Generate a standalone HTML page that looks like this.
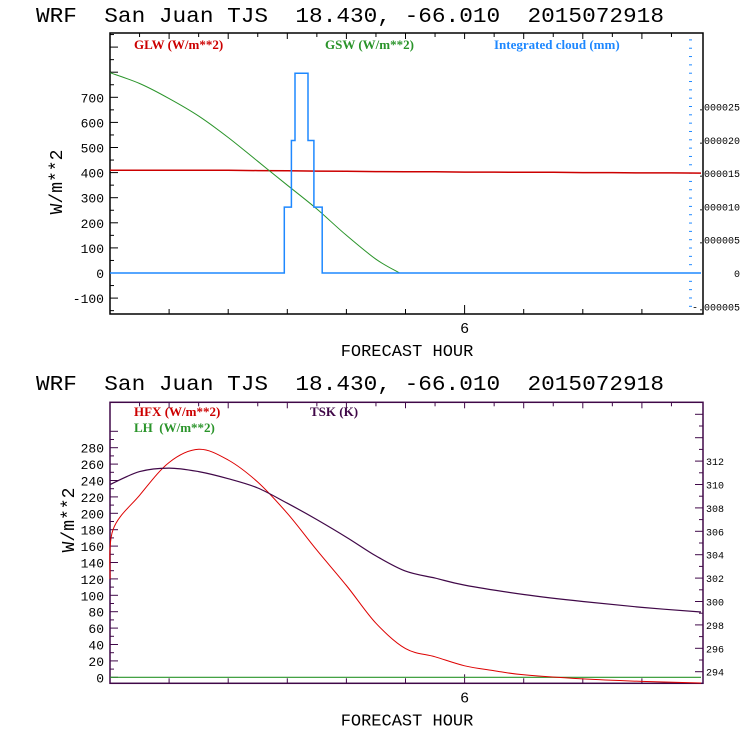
<!DOCTYPE html>
<html><head><meta charset="utf-8"><style>
html,body{margin:0;padding:0;background:#fff;}
svg{display:block;}
text{font-family:"Liberation Sans",sans-serif;}
.mono{font-family:"Liberation Mono",monospace;white-space:pre;}
.ser{font-family:"Liberation Serif",serif;font-weight:bold;white-space:pre;}
</style></head><body>
<svg id="chart" width="740" height="740" viewBox="0 0 740 740" xmlns="http://www.w3.org/2000/svg"></svg>
<script>
// ---- data ----
const hours = [0,0.5,1,1.5,2,2.5,3,3.5,4,4.5,5,5.5,6,6.5,7,7.5,8,8.5,9,9.5,10];
const glw = [409,409,409,409,409,408,407,406,405,404,403,403,402,402,401,401,400,400,399,399,398];
const gswHours = [0,0.5,1,1.5,2,2.5,3,3.5,4,4.5,4.9,10];
const gsw = [798,755,695,625,540,445,350,255,150,55,0,0];
const cloudEdges = [0,2.95,3.07,3.13,3.35,3.45,3.59,10];
const cloud = [0,0.0000099,0.0000199,0.000030,0.0000199,0.0000099,0];
const hfxHours = [0,0.05,0.5,1,1.5,2,2.5,3,3.5,4,4.5,5,5.5,6,6.5,7,8,9,10];
const hfx = [120,180,222,262,278,265,238,200,155,112,66,35,25,14,8,3,-2,-5,-7];
const lh = [0,0,0,0,0,0,0,0,0,0,0,0,0,0,0,0,0,0,0,0,0];
const tskHours = [0,0.5,1,1.5,2,2.5,3,3.5,4,4.5,5,5.5,6,7,8,9,10];
const tsk = [310.0,311.1,311.4,311.1,310.5,309.7,308.4,307.0,305.5,303.9,302.6,302.0,301.4,300.6,300.0,299.5,299.1];
const topLeftTicks = [-100,0,100,200,300,400,500,600,700];
const topRightTicks = [-0.000005,0,0.000005,0.00001,0.000015,0.00002,0.000025];
const topRightLabels = ["-.000005","0",".000005",".000010",".000015",".000020",".000025"];
const botLeftTicks = [0,20,40,60,80,100,120,140,160,180,200,220,240,260,280];
const botRightTicks = [294,296,298,300,302,304,306,308,310,312];

const NS="http://www.w3.org/2000/svg";
const svg=document.getElementById('chart');
function el(tag,attrs,parent){const e=document.createElementNS(NS,tag);for(const k in attrs)e.setAttribute(k,attrs[k]);(parent||svg).appendChild(e);return e;}
const X0=110,X1=703,PXH=59.1;
const xs=h=>X0+h*PXH;
const yT=v=>273-v*0.251;
const yTR=v=>273-v/0.000005*33.3;
const yB=v=>677.3-v*0.82;
const yBR=v=>671.7-(v-294)*11.7;

function title(y,name){
  const t=el('text',{x:36,y:y,'font-size':21,fill:'#000','class':'mono',textLength:628,lengthAdjust:'spacingAndGlyphs'});
  
  
  t.textContent='WRF  San Juan TJS  18.430, -66.010  2015072918';
}
function txt(x,y,s,size,fill,anchor,cls,name){
  const t=el('text',{x:x,y:y,'font-size':size,fill:fill,'text-anchor':anchor||'start'});
  if(cls)t.setAttribute('class',cls);
  
  
  t.textContent=s;return t;
}
function poly(pts,color,w,name){
  const p=el('polyline',{points:pts.map(p=>p[0].toFixed(1)+','+p[1].toFixed(1)).join(' '),fill:'none',stroke:color,'stroke-width':w});
  
  
}
function smooth(pts,color,w,name){
  let d='M'+pts[0][0].toFixed(1)+','+pts[0][1].toFixed(1);
  for(let i=0;i<pts.length-1;i++){
    const p0=pts[Math.max(0,i-1)],p1=pts[i],p2=pts[i+1],p3=pts[Math.min(pts.length-1,i+2)];
    const c1=[p1[0]+(p2[0]-p0[0])/6,p1[1]+(p2[1]-p0[1])/6];
    const c2=[p2[0]-(p3[0]-p1[0])/6,p2[1]-(p3[1]-p1[1])/6];
    d+=' C'+c1.map(v=>v.toFixed(1)).join(',')+' '+c2.map(v=>v.toFixed(1)).join(',')+' '+p2.map(v=>v.toFixed(1)).join(',');
  }
  const p=el('path',{d:d,fill:'none',stroke:color,'stroke-width':w});
  
  
}
function frame(yt,yb,color,name){
  const r=el('rect',{x:X0,y:yt,width:X1-X0,height:yb-yt,fill:'none',stroke:color,'stroke-width':1.5});
  
  
  for(let h=0.5;h<10;h+=0.5){
    const x=xs(h);
    el('line',{x1:x,y1:yt,x2:x,y2:yt+(h%1===0?6:4),stroke:color,'stroke-width':1});
    if(h%1===0) el('line',{x1:x,y1:yb,x2:x,y2:yb-(h===6?9:5),stroke:color,'stroke-width':1});
  }
  txt(xs(6),yb+19,'6',15,'#000','middle','mono','x-tick-6');
  txt(407,yb+42,'FORECAST HOUR',17,'#000','middle','mono','x-axis-title');
}

// ===== TOP PANEL =====
title(22,'top-title');
frame(33,314,'#000','top-plot-frame');
for(let v=-150;v<=950;v+=50){const y=yT(v);if(y<34||y>313)continue;el('line',{x1:X0,y1:y,x2:X0+(v%100===0?8:4),y2:y,stroke:'#000'});}
topLeftTicks.forEach(v=>txt(104,yT(v)+5,String(v),13,'#000','end','mono','top-y-tick-label'));
for(let v=-0.000005;v<=0.000049;v+=0.0000025/2){const y=yTR(v);if(y<36||y>312)continue;el('line',{x1:689,y1:y,x2:692,y2:y,stroke:'#1e88ff'});}
topRightTicks.forEach((v,i)=>txt(740,yTR(v)+4,topRightLabels[i],10,'#000','end','mono','top-right-tick-label'));
const yl=txt(0,0,'W/m**2',18,'#000','middle','mono','top-y-axis-title');yl.setAttribute('transform','translate(62,182) rotate(-90)');
txt(134,49,'GLW (W/m**2)',13,'#cc0000','start','ser','legend-glw');
txt(325,49,'GSW (W/m**2)',13,'#2a942a','start','ser','legend-gsw');
txt(494,49,'Integrated cloud (mm)',13,'#1e88ff','start','ser','legend-cloud');
poly(hours.map((h,i)=>[xs(h),yT(glw[i])]),'#cc0000',1.5,'glw-line');
smooth(gswHours.slice(0,11).map((h,i)=>[xs(h),yT(gsw[i])]),'#2a942a',1,'gsw-line');
const cp=[];for(let i=0;i<cloud.length;i++){cp.push([xs(cloudEdges[i]),yTR(cloud[i])]);cp.push([xs(cloudEdges[i+1]),yTR(cloud[i])]);}
poly(cp,'#1e88ff',1.5,'cloud-line');

// ===== BOTTOM PANEL =====
title(390,'bottom-title');
frame(402.3,683.3,'#400848','bottom-plot-frame');
for(let v=0;v<=300;v+=10){const y=yB(v);if(y<404)continue;el('line',{x1:X0,y1:y,x2:X0+(v%20===0?8:4),y2:y,stroke:'#400848'});}
botLeftTicks.forEach(v=>txt(104,yB(v)+5,String(v),13,'#000','end','mono','bottom-y-tick-label'));
for(let v=293;v<=317;v+=1){const y=yBR(v);if(y<404||y>682)continue;el('line',{x1:X1,y1:y,x2:X1-(v%2===0?8:4),y2:y,stroke:'#400848'});}
botRightTicks.forEach(v=>txt(706,yBR(v)+4,String(v),10,'#000','start','mono','bottom-right-tick-label'));
const yl2=txt(0,0,'W/m**2',18,'#000','middle','mono','bottom-y-axis-title');yl2.setAttribute('transform','translate(74,520) rotate(-90)');
txt(134,416,'HFX (W/m**2)',13,'#cc0000','start','ser','legend-hfx');
txt(134,432,'LH  (W/m**2)',13,'#2a942a','start','ser','legend-lh');
txt(310,416,'TSK (K)',13,'#400848','start','ser','legend-tsk');
poly(hours.map((h,i)=>[xs(h),yB(lh[i])]),'#2a942a',1.2,'lh-line');
smooth(hfxHours.map((h,i)=>[xs(h),Math.min(683,yB(hfx[i]))]),'#dd0000',1,'hfx-line');
smooth(tskHours.map((h,i)=>[xs(h),yBR(tsk[i])]),'#400848',1.2,'tsk-line');
</script>
</body></html>
